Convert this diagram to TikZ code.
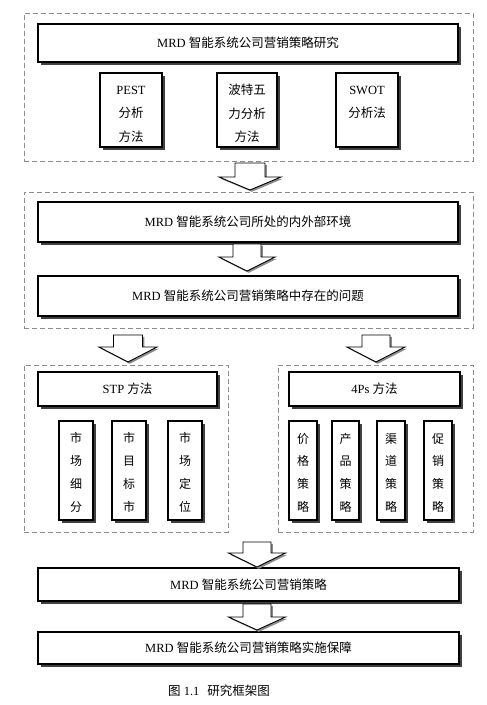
\documentclass[tikz,border=0pt]{standalone}
\usepackage{fontspec}
\setmainfont{Liberation Serif}
\newfontfamily\cjk{Noto Sans CJK SC}
\usetikzlibrary{shadows,calc}
\newcommand\fst{\rule{0pt}{10pt}}
\tikzset{
  grp/.style={draw=black!45, dash pattern=on 5pt off 3pt, line width=0.9pt, rectangle, inner sep=0pt},
  bx/.style={draw, line width=1.2pt, fill=white, rectangle, inner sep=0pt, align=center,
     drop shadow={shadow xshift=2.5pt, shadow yshift=-2.5pt, fill=black!75, opacity=1},
     font=\fontsize{12.5}{14}\selectfont},
  tbx/.style={bx, minimum height=74pt},
  ttxt/.style={anchor=north, inner sep=0pt, align=center, font=\fontsize{12.5}{23.5}\selectfont},
  vbx/.style={bx, minimum height=99pt, font=\cjk\fontsize{12}{22.7}\selectfont},
  arr/.style={draw, line width=0.9pt, fill=white,
     drop shadow={shadow xshift=1.8pt, shadow yshift=-1.8pt, fill=black!45, opacity=1}},
  capt/.style={font=\fontsize{12.5}{14}\selectfont, inner sep=0pt}
}
\newcommand\bkarrow[5]{%
  \path[arr] let \p1=(#1), \p2=(#2) in
    (\x1-#3pt,\y1) -- (\x1+#3pt,\y1) -- (\x1+#3pt,\y2+#5pt) -- (\x1+#4pt,\y2+#5pt)
    -- (\x1,\y2) -- (\x1-#4pt,\y2+#5pt) -- (\x1-#3pt,\y2+#5pt) -- cycle;}
\begin{document}
\begin{tikzpicture}[x=1pt,y=-1pt]
\useasboundingbox[fill=white] (0,0) rectangle (487,705);
% groups
\node[grp, minimum width=449pt, minimum height=148pt] (g1) at (248.5,87) {};
\node[grp, minimum width=449pt, minimum height=136pt] (g2) at (248.5,260) {};
\node[grp, minimum width=204pt, minimum height=167pt] (g3) at (126,448.5) {};
\node[grp, minimum width=195pt, minimum height=167pt] (g4) at (375.5,448.5) {};
% top section
\node[bx, minimum width=420pt, minimum height=38pt] (title) at (248,43) {MRD {\cjk 智能系统公司营销策略研究}};
\node[tbx, minimum width=62pt] (pest) at (131,110) {};
\node[tbx, minimum width=60pt] (porter) at (247,110) {};
\node[tbx, minimum width=62pt] (swot) at (367,110) {};
\node[ttxt] (pestt) at ($(pest.north)+(0,11.5)$) {\fst PEST\\{\cjk 分析}\\{\cjk 方法}};
\node[ttxt] (portert) at ($(porter.north)+(0,11.5)$) {\fst{\cjk 波特五}\\{\cjk 力分析}\\{\cjk 方法}};
\node[ttxt] (swott) at ($(swot.north)+(0,11.5)$) {\fst SWOT\\{\cjk 分析法}};
% middle
\node[bx, minimum width=420pt, minimum height=40pt] (env) at (248,222) {MRD {\cjk 智能系统公司所处的内外部环境}};
\node[bx, minimum width=420pt, minimum height=40pt] (prob) at (248,296) {MRD {\cjk 智能系统公司营销策略中存在的问题}};
% STP
\node[bx, minimum width=179pt, minimum height=34pt] (stp) at (127.5,389) {STP {\cjk 方法}};
\node[vbx, minimum width=34pt] (s1) at (76,470.5) {\rule{0pt}{14pt}市\\场\\细\\分};
\node[vbx, minimum width=34pt] (s2) at (129,470.5) {\rule{0pt}{14pt}市\\目\\标\\市};
\node[vbx, minimum width=34pt] (s3) at (185,470.5) {\rule{0pt}{14pt}市\\场\\定\\位};
% 4Ps
\node[bx, minimum width=171pt, minimum height=34pt] (fourps) at (374.5,389) {4Ps {\cjk 方法}};
\node[vbx, minimum width=28pt] (p1) at (303,470.5) {\rule{0pt}{14pt}价\\格\\策\\略};
\node[vbx, minimum width=27pt] (p2) at (345.5,470.5) {\rule{0pt}{14pt}产\\品\\策\\略};
\node[vbx, minimum width=28pt] (p3) at (391,470.5) {\rule{0pt}{14pt}渠\\道\\策\\略};
\node[vbx, minimum width=28pt] (p4) at (438,470.5) {\rule{0pt}{14pt}促\\销\\策\\略};
% bottom
\node[bx, minimum width=421pt, minimum height=33pt] (strat) at (248.5,584.5) {MRD {\cjk 智能系统公司营销策略}};
\node[bx, minimum width=421pt, minimum height=32pt] (impl) at (248.5,648) {MRD {\cjk 智能系统公司营销策略实施保障}};
\node[capt] (caption) at (219,691) {{\cjk 图} 1.1\hspace{8pt}{\cjk 研究框架图}};
% arrow end points
\coordinate (a1t) at (250,163); \coordinate (a1b) at (250,190);
\coordinate (a2t) at (247,244); \coordinate (a2b) at (247,271);
\coordinate (a3t) at (128,335); \coordinate (a3b) at (128,362);
\coordinate (a4t) at (376,335); \coordinate (a4b) at (376,362);
\coordinate (a5t) at (257,542); \coordinate (a5b) at (257,567);
\coordinate (a6t) at (257,604); \coordinate (a6b) at (257,630);
\bkarrow{a1t}{a1b}{15}{31}{13}
\bkarrow{a2t}{a2b}{14}{28}{14}
\bkarrow{a3t}{a3b}{14.5}{29}{15}
\bkarrow{a4t}{a4b}{14}{29}{15}
\bkarrow{a5t}{a5b}{14}{28.5}{14}
\bkarrow{a6t}{a6b}{14}{28.5}{13}
\end{tikzpicture}
\end{document}
